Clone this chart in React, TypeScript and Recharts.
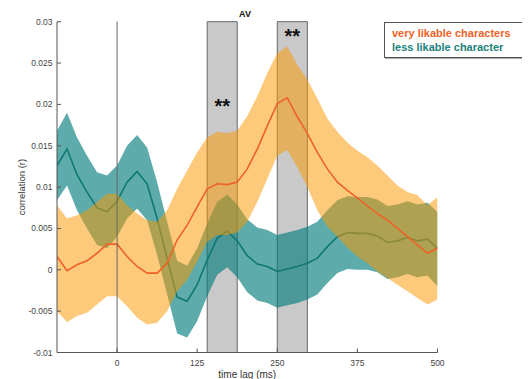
import React from 'react';
import {
  ComposedChart,
  Area,
  Line,
  XAxis,
  YAxis,
  ReferenceArea,
  ReferenceLine,
  Label,
} from 'recharts';

// time lags (ms)
const lags = [
  -93.75, -78.125, -62.5, -46.875, -31.25, -15.625, 0, 15.625, 31.25, 46.875,
  62.5, 78.125, 93.75, 109.375, 125, 140.625, 156.25, 171.875, 187.5, 203.125,
  218.75, 234.375, 250, 265.625, 281.25, 296.875, 312.5, 328.125, 343.75,
  359.375, 375, 390.625, 406.25, 421.875, 437.5, 453.125, 468.75, 484.375, 500,
];

// very likable characters (mean, upper, lower)
const veryMean = [
  0.0016, -0.0001, 0.0006, 0.0011, 0.002, 0.0031, 0.0031, 0.0016, 0.0004, -0.0004,
  -0.0004, 0.0008, 0.0036, 0.0054, 0.0076, 0.0098, 0.0104, 0.0103, 0.0106, 0.0122,
  0.0146, 0.0174, 0.0201, 0.0208, 0.0185, 0.0165, 0.0142, 0.0122, 0.0106, 0.0096,
  0.0087, 0.0077, 0.0068, 0.006, 0.005, 0.004, 0.003, 0.002, 0.0026,
];
const veryHi = [
  0.0078, 0.0062, 0.0066, 0.0072, 0.0082, 0.0092, 0.0092, 0.0078, 0.0068, 0.006,
  0.0058, 0.0072, 0.0098, 0.012, 0.0142, 0.016, 0.0167, 0.0165, 0.0168, 0.0186,
  0.021, 0.0238, 0.0262, 0.027, 0.0248, 0.023, 0.0207, 0.0183, 0.0167, 0.0154,
  0.0144, 0.0136, 0.0126, 0.0114, 0.0102, 0.0094, 0.009, 0.0078, 0.0088,
];
const veryLo = [
  -0.005, -0.0063, -0.0056, -0.0052, -0.0042, -0.0032, -0.0032, -0.0044, -0.0058, -0.0066,
  -0.0064, -0.005, -0.0026, -0.0012, 0.001, 0.0034, 0.0042, 0.0042, 0.0045, 0.0058,
  0.0082, 0.011, 0.0138, 0.0145, 0.0124, 0.01, 0.0072, 0.0052, 0.004, 0.0027,
  0.0016, 0.0008, -0.0002, -0.001, -0.0018, -0.0026, -0.0034, -0.0042, -0.0036,
];

// less likable character (mean, upper, lower)
const lessMean = [
  0.0126, 0.0146, 0.0115, 0.0094, 0.0075, 0.007, 0.0083, 0.0106, 0.0119, 0.0104,
  0.0062, 0.0014, -0.0033, -0.0038, -0.0018, 0.0012, 0.0038, 0.0047, 0.0035, 0.0017,
  0.0007, 0.0004, -0.0002, 0.0001, 0.0004, 0.0008, 0.0014, 0.0028, 0.004, 0.0045,
  0.0044, 0.0044, 0.0041, 0.0033, 0.0035, 0.0039, 0.0035, 0.0037, 0.0026,
];
const lessHi = [
  0.0168, 0.019, 0.016, 0.0138, 0.0118, 0.0114, 0.0126, 0.015, 0.0163, 0.0148,
  0.0106, 0.0058, 0.0011, 0.0005, 0.0026, 0.0056, 0.0082, 0.0091, 0.0079, 0.0061,
  0.0051, 0.0048, 0.0042, 0.0045, 0.0048, 0.0052, 0.0058, 0.0072, 0.0084, 0.0089,
  0.0088, 0.0088, 0.0085, 0.0077, 0.0079, 0.0083, 0.0079, 0.0081, 0.007,
];
const lessLo = [
  0.0084, 0.0102, 0.0072, 0.005, 0.003, 0.0026, 0.004, 0.0062, 0.0074, 0.006,
  0.0018, -0.003, -0.0077, -0.0082, -0.0062, -0.0032, -0.0006, 0.0003, -0.0009, -0.0027,
  -0.0037, -0.004, -0.0046, -0.0043, -0.004, -0.0036, -0.003, -0.0016, -0.0004, 0.0001,
  0.0, 0.0, -0.0003, -0.0011, -0.0009, -0.0005, -0.0009, -0.0007, -0.002,
];

// significant windows (ms)
const sigWindows: [number, number][] = [
  [140.625, 187.5],
  [250, 296.875],
];
const sigLabels = ['**', '**'];
const sigLabelOffsets = [77, 7];

const xTicks = [0, 125, 250, 375, 500];
const yTicks = [-0.01, -0.005, 0, 0.005, 0.01, 0.015, 0.02, 0.025, 0.03];

const seriesNames = ['very likable characters', 'less likable character'];
const title = 'AV';
const xLabel = 'time lag (ms)';
const yLabel = 'correlation (r)';

const data = lags.map((lag, i) => ({
  lag,
  very: veryMean[i],
  less: lessMean[i],
  veryBand: [veryLo[i], veryHi[i]],
  lessBand: [lessLo[i], lessHi[i]],
}));

const FONT = '"Liberation Sans", Arial, Helvetica, sans-serif';
const ORANGE = '#EF6227';
const TEAL_LINE = '#0F7775';

const fmtY = (v: number) => String(parseFloat(v.toFixed(3)));

const YLabelContent = (props: any) => {
  const vb = props.viewBox || {};
  const cx = (vb.x ?? 0) + 5;
  const cy = (vb.y ?? 0) + (vb.height ?? 0) / 2;
  return (
    <text
      x={cx}
      y={cy}
      transform={`rotate(-90 ${cx} ${cy})`}
      textAnchor="middle"
      dominantBaseline="central"
      fontSize={9.5}
      fill="#333"
      fontFamily={FONT}
    >
      {yLabel}
    </text>
  );
};

const XLabelContent = (props: any) => {
  const vb = props.viewBox || {};
  const cx = (vb.x ?? 0) + (vb.width ?? 0) / 2;
  const y = (vb.y ?? 0) + 25.5;
  return (
    <text x={cx} y={y} textAnchor="middle" fontSize={10} fill="#333" fontFamily={FONT}>
      {xLabel}
    </text>
  );
};

export default function App() {
  return (
    <div style={{ position: 'relative', width: 514, height: 371, fontFamily: FONT }}>
      <ComposedChart
        width={514}
        height={371}
        data={data}
        margin={{ top: 13.7, right: 84.5, bottom: 0, left: 9 }}
      >
        <XAxis
          dataKey="lag"
          type="number"
          domain={[-93.75, 500]}
          ticks={xTicks}
          height={26.5}
          tickSize={-4}
          tickMargin={11.5}
          stroke="#555"
          tick={{ fontSize: 8.5, fill: '#444', fontFamily: FONT }}
          allowDataOverflow
        >
          <Label content={XLabelContent} />
        </XAxis>
        <YAxis
          type="number"
          domain={[-0.01, 0.03]}
          ticks={yTicks}
          width={40}
          tickSize={-4}
          tickMargin={8.5}
          stroke="#555"
          tickFormatter={fmtY}
          tick={{ fontSize: 8.5, fill: '#444', fontFamily: FONT }}
          allowDataOverflow
        >
          <Label content={YLabelContent} />
        </YAxis>
        {sigWindows.map(([a, b], i) => (
          <ReferenceArea
            key={'sig' + i}
            x1={a}
            x2={b}
            fill="#C9C9C9"
            fillOpacity={1}
            stroke="#666"
            strokeWidth={1}
            zIndex={10}
            label={{
              value: sigLabels[i],
              position: 'insideTop',
              offset: sigLabelOffsets[i],
              fontSize: 20,
              fontWeight: 'bold',
              fill: '#111',
              fontFamily: FONT,
            }}
          />
        ))}
        <Area
          dataKey="lessBand"
          type="linear"
          stroke="none"
          fill="#017C7C"
          fillOpacity={0.64}
          isAnimationActive={false}
          activeDot={false}
          zIndex={100}
        />
        <Line
          dataKey="less"
          type="linear"
          stroke={TEAL_LINE}
          strokeWidth={1.6}
          dot={false}
          activeDot={false}
          isAnimationActive={false}
          zIndex={110}
        />
        <Area
          dataKey="veryBand"
          type="linear"
          stroke="none"
          fill="#F99A00"
          fillOpacity={0.52}
          isAnimationActive={false}
          activeDot={false}
          zIndex={120}
        />
        <Line
          dataKey="very"
          type="linear"
          stroke={ORANGE}
          strokeWidth={1.6}
          dot={false}
          activeDot={false}
          isAnimationActive={false}
          zIndex={130}
        />
        <ReferenceLine x={0} stroke="#666" strokeWidth={1} zIndex={140} />
      </ComposedChart>
      <div
        style={{
          position: 'absolute',
          left: 227,
          top: 1,
          width: 20,
          textAlign: 'center',
          fontSize: 9,
          fontWeight: 'bold',
          lineHeight: '10px',
          color: '#111',
        }}
      >
        {title}
      </div>
      <div
        style={{
          position: 'absolute',
          left: 376,
          top: 14,
          width: 145,
          height: 36,
          boxSizing: 'border-box',
          border: '1px solid #555',
          boxShadow: '1px 1px 0 #aaa',
          background: '#fff',
          padding: '4px 0 0 7px',
          fontSize: 11,
          fontWeight: 'bold',
          lineHeight: '13.5px',
          whiteSpace: 'nowrap',
        }}
      >
        <div style={{ color: ORANGE }}>{seriesNames[0]}</div>
        <div style={{ color: '#1B7F7B' }}>{seriesNames[1]}</div>
      </div>
    </div>
  );
}
